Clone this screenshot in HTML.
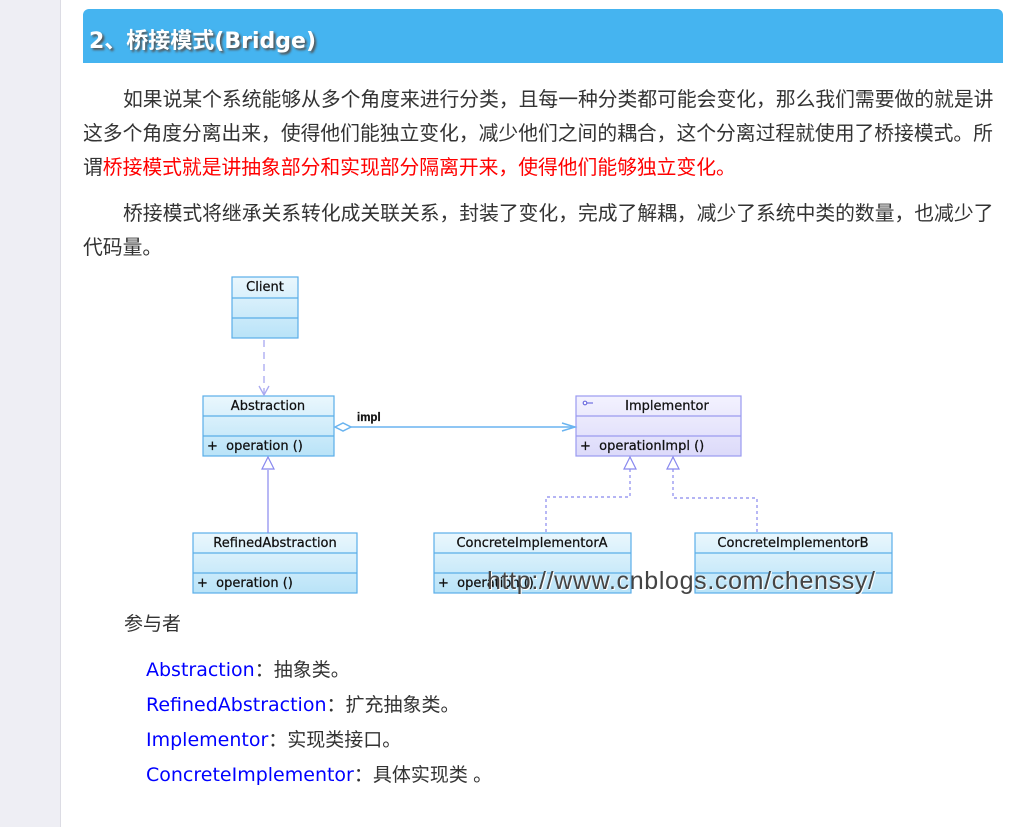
<!DOCTYPE html>
<html><head><meta charset="utf-8"><style>
html,body{margin:0;padding:0;width:1016px;height:827px;overflow:hidden;background:#fff;}
body{position:relative;font-family:"Liberation Sans","Noto Sans CJK SC",sans-serif;}
#side{position:absolute;left:0;top:0;width:60px;height:827px;background:#eeeef4;border-right:1px solid #dcdce4;}
#hdr{position:absolute;left:83px;top:9px;width:920px;height:54px;background:#45b4f0;border-radius:6px 6px 0 0;}
#hdr span{position:absolute;left:6px;top:14px;font-size:22px;font-weight:bold;color:#fff;text-shadow:2px 2px 2px #555;font-family:"DejaVu Sans","Noto Sans CJK SC",sans-serif;}
.l{position:absolute;left:83px;font-size:19.8px;color:#333;white-space:nowrap;line-height:24px;}
.r{color:#f00;}
.b{color:#00f;font-family:"DejaVu Sans",sans-serif;font-size:19px;}
</style></head><body>
<div id="side"></div>
<div id="hdr"><span>2、桥接模式(Bridge)</span></div>
<div class="l" style="top:88px;left:123px">如果说某个系统能够从多个角度来进行分类，且每一种分类都可能会变化，那么我们需要做的就是讲</div>
<div class="l" style="top:122px">这多个角度分离出来，使得他们能独立变化，减少他们之间的耦合，这个分离过程就使用了桥接模式。所</div>
<div class="l" style="top:156px">谓<span class="r">桥接模式就是讲抽象部分和实现部分隔离开来，使得他们能够独立变化。</span></div>
<div class="l" style="top:202px;left:123px">桥接模式将继承关系转化成关联关系，封装了变化，完成了解耦，减少了系统中类的数量，也减少了</div>
<div class="l" style="top:236px">代码量。</div>
<svg style="position:absolute;left:0;top:0" width="1016" height="827" font-family="DejaVu Sans, sans-serif">
<defs>
<linearGradient id="g" x1="0" y1="0" x2="0" y2="1"><stop offset="0" stop-color="#eaf7fd"/><stop offset="1" stop-color="#b9e3f8"/></linearGradient>
<linearGradient id="p" x1="0" y1="0" x2="0" y2="1"><stop offset="0" stop-color="#f3f2fe"/><stop offset="1" stop-color="#dcdafa"/></linearGradient>
</defs>
<g stroke="#5aaee8" stroke-width="1.2" fill="url(#g)">
<rect x="232" y="277" width="66" height="61"/><line x1="232" y1="298" x2="298" y2="298"/><line x1="232" y1="318" x2="298" y2="318"/>
<rect x="203" y="396" width="131" height="60"/><line x1="203" y1="416" x2="334" y2="416"/><line x1="203" y1="436" x2="334" y2="436"/>
<rect x="193" y="533" width="164" height="60"/><line x1="193" y1="553" x2="357" y2="553"/><line x1="193" y1="573" x2="357" y2="573"/>
<rect x="434" y="533" width="197" height="60"/><line x1="434" y1="553" x2="631" y2="553"/><line x1="434" y1="573" x2="631" y2="573"/>
<rect x="695" y="533" width="197" height="60"/><line x1="695" y1="553" x2="892" y2="553"/><line x1="695" y1="573" x2="892" y2="573"/>
</g>
<g stroke="#9a9af0" stroke-width="1.2" fill="url(#p)">
<rect x="576" y="396" width="165" height="60"/><line x1="576" y1="416" x2="741" y2="416"/><line x1="576" y1="436" x2="741" y2="436"/>
</g>
<g font-size="13" fill="#111" stroke="#111" stroke-width="0.25">
<text x="265" y="291" text-anchor="middle">Client</text>
<text x="268" y="410" text-anchor="middle">Abstraction</text>
<text x="207" y="450" xml:space="preserve">+  operation ()</text>
<text x="275" y="547" text-anchor="middle">RefinedAbstraction</text>
<text x="197" y="587" xml:space="preserve">+  operation ()</text>
<text x="532" y="547" text-anchor="middle">ConcreteImplementorA</text>
<text x="438" y="587" xml:space="preserve">+  operation ()</text>
<text x="793" y="547" text-anchor="middle">ConcreteImplementorB</text>
<text x="667" y="410" text-anchor="middle">Implementor</text>
<text x="580" y="450" xml:space="preserve">+  operationImpl ()</text>
<text x="357" y="421" font-weight="bold" font-size="11.5" font-family="Liberation Sans, sans-serif">impl</text>
</g>
<g stroke="#7070e0" stroke-width="1.2"><line x1="583" y1="403" x2="593" y2="403"/><circle cx="585" cy="403" r="1.8" fill="#fff"/></g>
<g stroke="#a8a8f0" stroke-width="1.3" fill="none">
<line x1="264" y1="340" x2="264" y2="395" stroke-dasharray="7,5"/>
<polyline points="259,386 264,395 269,386"/>
</g>
<g stroke="#6ab4f0" stroke-width="1.5" fill="none">
<line x1="351" y1="427" x2="575" y2="427"/>
<polyline points="562,423 575,427 562,431"/>
<polygon points="335,427 343,423 351,427 343,431" fill="#fff"/>
</g>
<g stroke="#8888ee" stroke-width="1.2" fill="#fff">
<line x1="268" y1="470" x2="268" y2="533"/>
<polygon points="268,457 262,469 274,469"/>
<polygon points="630,457 624,469 636,469"/>
<polygon points="673,457 667,469 679,469"/>
</g>
<g stroke="#8888ee" stroke-width="1.2" fill="none" stroke-dasharray="3,3">
<polyline points="630,469 630,497 546,497 546,533"/>
<polyline points="673,469 673,498 757,498 757,533"/>
</g>
<text x="487" y="589" font-size="25" font-family="Liberation Sans, sans-serif" textLength="388" fill="#444" style="text-shadow:1px 1px 0 #fff">http://www.cnblogs.com/chenssy/</text>
</svg>
<div class="l" style="top:613px;left:124px;font-size:19px">参与者</div>
<div class="l" style="top:658px;left:146px;font-size:19px"><span class="b">Abstraction</span>：抽象类。</div>
<div class="l" style="top:693px;left:146px;font-size:19px"><span class="b">RefinedAbstraction</span>：扩充抽象类。</div>
<div class="l" style="top:728px;left:146px;font-size:19px"><span class="b">Implementor</span>：实现类接口。</div>
<div class="l" style="top:763px;left:146px;font-size:19px"><span class="b">ConcreteImplementor</span>：具体实现类 。</div>
</body></html>
